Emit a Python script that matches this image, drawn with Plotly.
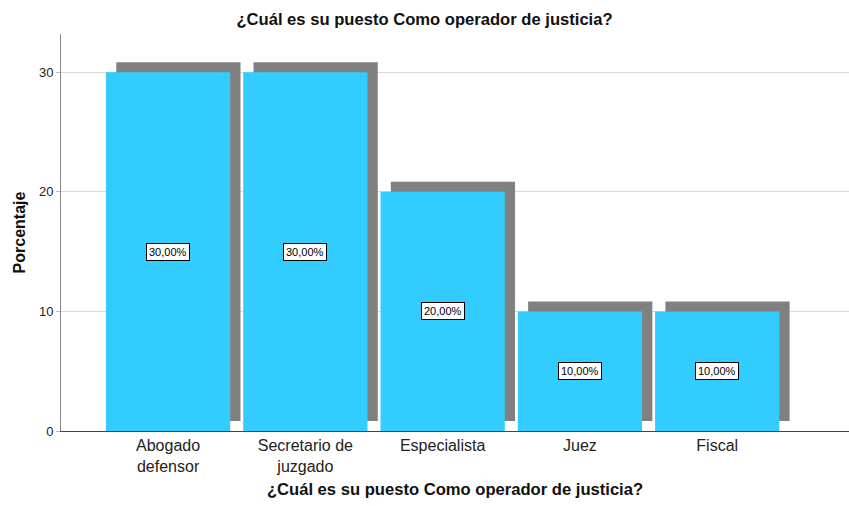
import plotly.graph_objects as go

categories = ["Abogado<br>defensor", "Secretario de<br>juzgado", "Especialista", "Juez", "Fiscal"]
values = [30, 30, 20, 10, 10]
labels = ["30,00%", "30,00%", "20,00%", "10,00%", "10,00%"]
y_ticks = [0, 10, 20, 30]

FONT = "Liberation Sans, Arial, sans-serif"
bar_w = 0.905
shadow_dx = 0.075
shadow_dy = 0.84

fig = go.Figure()
fig.add_trace(go.Bar(
    x=categories, y=values, base=[shadow_dy] * len(values),
    width=bar_w, offset=-bar_w / 2 + shadow_dx,
    marker=dict(color="#808080", line=dict(width=0)),
    hoverinfo="skip", showlegend=False,
))
fig.add_trace(go.Bar(
    x=categories, y=values,
    width=bar_w, offset=-bar_w / 2,
    marker=dict(color="#33ccff", line=dict(width=0)),
    showlegend=False,
))
for c, v, t in zip(categories, values, labels):
    fig.add_annotation(
        x=c, y=v / 2, text=t, showarrow=False,
        font=dict(family=FONT, size=11, color="#000"),
        bgcolor="white", bordercolor="#000", borderwidth=1, borderpad=2,
    )

fig.update_layout(
    width=849, height=506,
    margin=dict(l=61, r=0, t=34, b=75, autoexpand=False),
    paper_bgcolor="white", plot_bgcolor="white",
    barmode="overlay",
    font=dict(family=FONT, color="#222"),
    title=dict(text="<b>¿Cuál es su puesto Como operador de justicia?</b>",
               x=0.5, xanchor="center", y=0.963, yanchor="middle",
               font=dict(family=FONT, size=16.6, color="#111")),
    xaxis=dict(
        range=[-0.78, 4.96], automargin=False,
        showgrid=False, showline=True, linecolor="#444", linewidth=1,
        ticks="", ticklen=0, tickfont=dict(family=FONT, size=16, color="#222"),
        title=dict(text="<b>¿Cuál es su puesto Como operador de justicia?</b>",
                   font=dict(family=FONT, size=16.6, color="#111"), standoff=9),
        zeroline=False,
    ),
    yaxis=dict(
        range=[0, 33.2], tickvals=y_ticks, ticktext=[str(v) for v in y_ticks],
        automargin=False,
        showgrid=True, gridcolor="#d9d9d9", gridwidth=1,
        showline=True, linecolor="#888", linewidth=1,
        ticks="outside", ticklen=4, tickcolor="#bbbbbb",
        tickfont=dict(family=FONT, size=13, color="#222"),
        title=dict(text="<b>Porcentaje</b>", font=dict(family=FONT, size=16, color="#111"), standoff=9),
        zeroline=False,
    ),
)

fig.write_html("out.html", config={"displayModeBar": False},
               post_script="document.body.style.margin='0';document.body.style.overflow='hidden';")
